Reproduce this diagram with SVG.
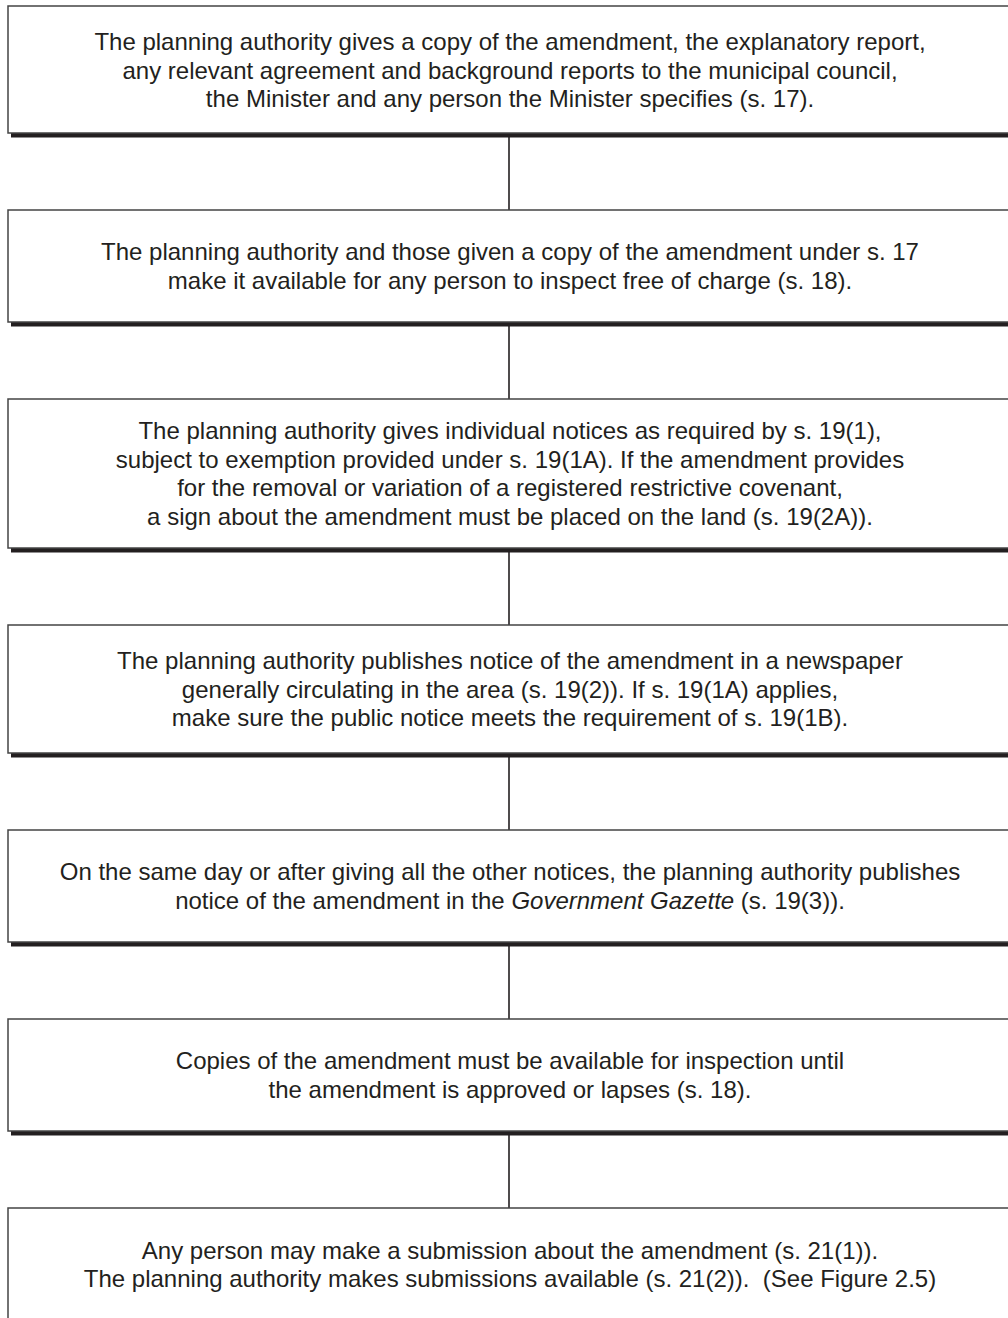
<svg xmlns="http://www.w3.org/2000/svg" width="1008" height="1318" viewBox="0 0 1008 1318">
<style>
.box{fill:#fff;stroke:#444;stroke-width:1.5}
.sh{fill:#231f20}
.t{font-family:"Liberation Sans",Arial,sans-serif;font-size:24px;fill:#231f20;text-anchor:middle}
.c{stroke:#231f20;stroke-width:1.6;fill:none}
</style>
<rect width="1008" height="1318" fill="#fff"/>
<g id="connectors">
<line class="c" x1="509" y1="137" x2="509" y2="210"/>
<line class="c" x1="509" y1="326" x2="509" y2="399"/>
<line class="c" x1="509" y1="552" x2="509" y2="625"/>
<line class="c" x1="509" y1="757" x2="509" y2="830"/>
<line class="c" x1="509" y1="946" x2="509" y2="1019"/>
<line class="c" x1="509" y1="1135" x2="509" y2="1208"/>
</g>
<g id="n1">
<rect class="sh" x="11" y="133" width="1000" height="4.5"/>
<rect class="box" x="8" y="6" width="1010" height="127"/>
<text class="t"><tspan x="510" y="50">The planning authority gives a copy of the amendment, the explanatory report,</tspan><tspan x="510" y="78.5">any relevant agreement and background reports to the municipal council,</tspan><tspan x="510" y="107">the Minister and any person the Minister specifies (s. 17).</tspan></text>
</g>
<g id="n2">
<rect class="sh" x="11" y="322" width="1000" height="4.5"/>
<rect class="box" x="8" y="210" width="1010" height="112"/>
<text class="t"><tspan x="510" y="260.3">The planning authority and those given a copy of the amendment under s. 17</tspan><tspan x="510" y="288.8">make it available for any person to inspect free of charge (s. 18).</tspan></text>
</g>
<g id="n3">
<rect class="sh" x="11" y="548" width="1000" height="4.5"/>
<rect class="box" x="8" y="399" width="1010" height="149"/>
<text class="t"><tspan x="510" y="439.4">The planning authority gives individual notices as required by s. 19(1),</tspan><tspan x="510" y="467.9">subject to exemption provided under s. 19(1A). If the amendment provides</tspan><tspan x="510" y="496.4">for the removal or variation of a registered restrictive covenant,</tspan><tspan x="510" y="524.9">a sign about the amendment must be placed on the land (s. 19(2A)).</tspan></text>
</g>
<g id="n4">
<rect class="sh" x="11" y="753" width="1000" height="4.5"/>
<rect class="box" x="8" y="625" width="1010" height="128"/>
<text class="t"><tspan x="510" y="669.1">The planning authority publishes notice of the amendment in a newspaper</tspan><tspan x="510" y="697.6">generally circulating in the area (s. 19(2)). If s. 19(1A) applies,</tspan><tspan x="510" y="726.1">make sure the public notice meets the requirement of s. 19(1B).</tspan></text>
</g>
<g id="n5">
<rect class="sh" x="11" y="942" width="1000" height="4.5"/>
<rect class="box" x="8" y="830" width="1010" height="112"/>
<text class="t"><tspan x="510" y="880.4">On the same day or after giving all the other notices, the planning authority publishes</tspan><tspan x="510" y="908.9">notice of the amendment in the <tspan font-style="italic">Government Gazette</tspan> (s. 19(3)).</tspan></text>
</g>
<g id="n6">
<rect class="sh" x="11" y="1131" width="1000" height="4.5"/>
<rect class="box" x="8" y="1019" width="1010" height="112"/>
<text class="t"><tspan x="510" y="1069.4">Copies of the amendment must be available for inspection until</tspan><tspan x="510" y="1097.9">the amendment is approved or lapses (s. 18).</tspan></text>
</g>
<g id="n7">
<rect class="box" x="8" y="1208" width="1010" height="130"/>
<text class="t" xml:space="preserve"><tspan x="510" y="1259">Any person may make a submission about the amendment (s. 21(1)).</tspan><tspan x="510" y="1287">The planning authority makes submissions available (s. 21(2)).  (See Figure 2.5)</tspan></text>
</g>
</svg>
